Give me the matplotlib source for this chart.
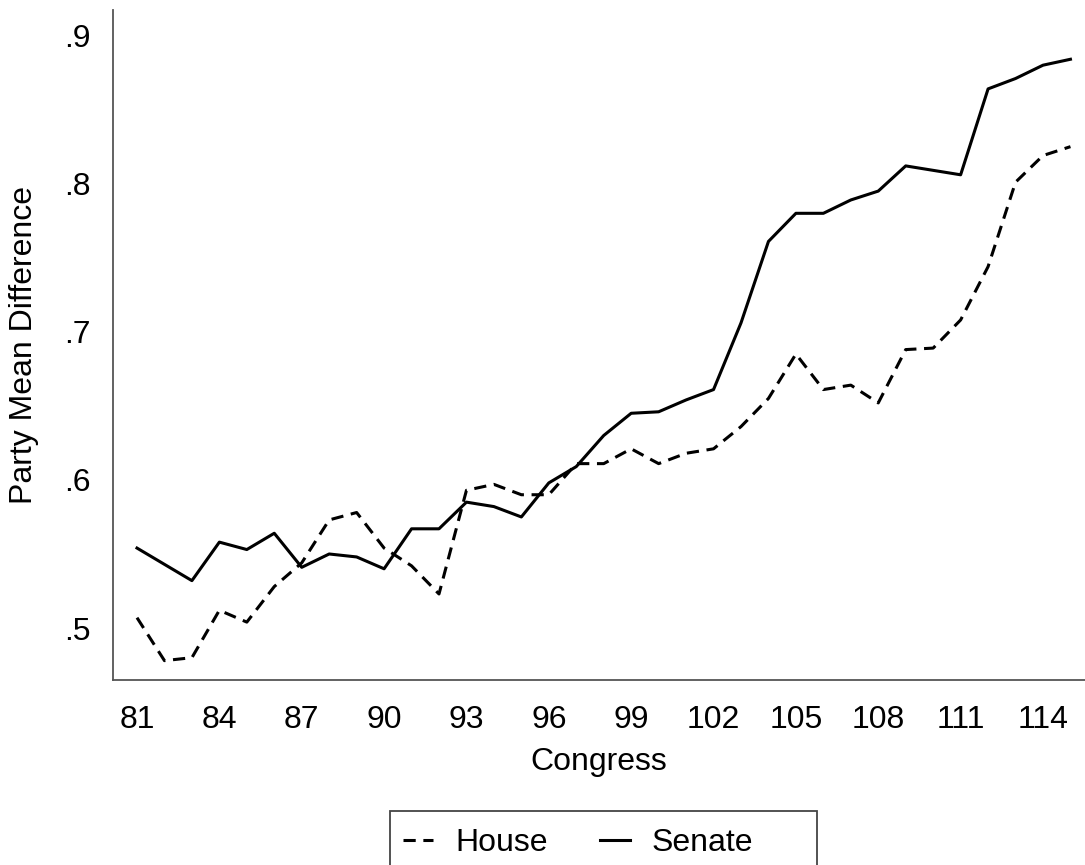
import numpy as np
import matplotlib
matplotlib.use('Agg')
import matplotlib.pyplot as plt
from matplotlib.patches import Rectangle

# 数据
congress = list(range(81, 116))
house = [0.507, 0.478, 0.480, 0.512, 0.504, 0.528, 0.544, 0.573, 0.578, 0.554,
         0.542, 0.523, 0.593, 0.597, 0.590, 0.590, 0.611, 0.611, 0.621, 0.611,
         0.618, 0.621, 0.636, 0.655, 0.685, 0.661, 0.664, 0.652, 0.688, 0.689,
         0.708, 0.744, 0.801, 0.819, 0.825]
senate = [0.554, 0.543, 0.532, 0.558, 0.553, 0.564, 0.541, 0.550, 0.548, 0.540,
          0.567, 0.567, 0.585, 0.582, 0.575, 0.598, 0.609, 0.630, 0.645, 0.646,
          0.654, 0.661, 0.706, 0.761, 0.780, 0.780, 0.789, 0.795, 0.812, 0.809,
          0.806, 0.864, 0.871, 0.880, 0.884]
xticks = list(range(81, 115, 3))
yticks = [0.5, 0.6, 0.7, 0.8, 0.9]
ytick_labels = ['.5', '.6', '.7', '.8', '.9']

plt.rcParams['font.family'] = ['Liberation Sans', 'DejaVu Sans']
fs = 23

# 创建图形
fig = plt.figure(figsize=(10.85, 8.65), dpi=100)
ax = fig.add_axes([0.104, 0.214, 0.896, 0.774])

ax.plot(congress, house, color='black', linewidth=2.2,
        linestyle=(0, (4, 2.5)), label='House')
ax.plot(congress, senate, color='black', linewidth=2.2,
        linestyle='-', label='Senate')

# 设置坐标轴
ax.set_xlim(80.12, 115.53)
ax.set_ylim(0.465, 0.917)
ax.set_xticks(xticks)
ax.set_yticks(yticks)
ax.set_yticklabels(ytick_labels)
ax.tick_params(axis='both', length=0, labelsize=fs)
ax.tick_params(axis='x', pad=18)
ax.tick_params(axis='y', pad=16)

for s in ['top', 'right']:
    ax.spines[s].set_visible(False)
for s in ['left', 'bottom']:
    ax.spines[s].set_color('#555555')
    ax.spines[s].set_linewidth(1.3)

ax.set_xlabel('Congress', fontsize=fs, labelpad=9)
ax.set_ylabel('Party Mean Difference', fontsize=fs, labelpad=18)

# 图例 (底部被截断, 边框单独画)
leg = fig.legend(loc='center left', bbox_to_anchor=(403 / 1085, 1 - 843 / 865),
                 ncol=2, fontsize=fs, frameon=False, borderpad=0,
                 borderaxespad=0, handlelength=0.94, handletextpad=0.69,
                 columnspacing=1.63)
fig.patches.append(Rectangle((390 / 1085, -0.05), 427 / 1085, 0.05 + 1 - 811 / 865,
                             transform=fig.transFigure, fill=False,
                             edgecolor='#444444', linewidth=1.3))

fig.savefig('out.png', dpi=100)
